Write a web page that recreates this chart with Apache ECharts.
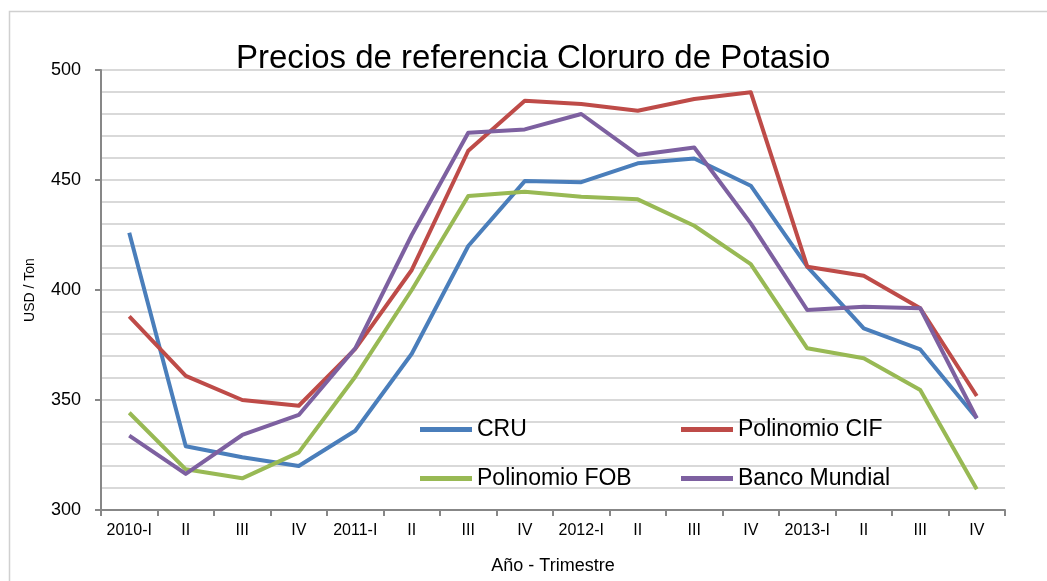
<!DOCTYPE html>
<html>
<head>
<meta charset="utf-8">
<script src="https://cdn.jsdelivr.net/npm/echarts@6/dist/echarts.min.js"></script>
<style>
  html, body { margin: 0; padding: 0; background: #fff; }
  #chart { width: 1047px; height: 581px; }
</style>
</head>
<body>
<div id="chart"></div>
<script>
// trimestres
var quarters = ['2010-I', 'II', 'III', 'IV', '2011-I', 'II', 'III', 'IV', '2012-I', 'II', 'III', 'IV', '2013-I', 'II', 'III', 'IV'];

// valores (USD / Ton)
var cru = [426, 329, 324, 320, 336, 371, 420, 449.5, 449, 457.6, 459.8, 447.4, 410.6, 382.6, 373, 341.7];
var polinomioCif = [388, 361, 350, 347.4, 373.2, 409.1, 463.3, 486, 484.5, 481.5, 486.8, 489.9, 410.6, 406.5, 391.7, 351.8];
var polinomioFob = [344.2, 318.5, 314.4, 326.2, 360.6, 400, 442.7, 444.7, 442.4, 441.2, 429.2, 411.8, 373.5, 369, 354.5, 309.4];
var bancoMundial = [333.8, 316.4, 334.1, 343.2, 373.5, 425, 471.5, 473, 480, 461.4, 464.8, 430.3, 390.9, 392.4, 391.7, 341.7];

var font = 'Liberation Sans';
var chart = echarts.init(document.getElementById('chart'));

function legendAt(name, left, top) {
  return {
    data: [name],
    left: left,
    top: top,
    icon: 'rect',
    itemWidth: 52,
    itemHeight: 5,
    padding: 0,
    textStyle: { fontFamily: font, fontSize: 23, color: '#000' }
  };
}

function line(name, data, color) {
  return {
    name: name,
    type: 'line',
    data: data,
    showSymbol: false,
    symbol: 'none',
    lineStyle: { width: 4, color: color, join: 'round' },
    itemStyle: { color: color }
  };
}

var option = {
  animation: false,
  backgroundColor: '#fff',
  graphic: [{
    type: 'rect',
    shape: { x: 9.5, y: 11.5, width: 1100, height: 620 },
    style: { fill: null, stroke: '#d0d0d0', lineWidth: 1.5 },
    z: -1
  }],
  title: {
    text: 'Precios de referencia Cloruro de Potasio',
    left: 231,
    top: 37,
    textStyle: { fontFamily: font, fontSize: 33, fontWeight: 'normal', color: '#000' }
  },
  legend: [
    legendAt('CRU', 420, 418),
    legendAt('Polinomio CIF', 681, 418),
    legendAt('Polinomio FOB', 420, 467),
    legendAt('Banco Mundial', 681, 467)
  ],
  grid: { left: 101, right: 42, top: 70, bottom: 71 },
  xAxis: {
    type: 'category',
    data: quarters,
    boundaryGap: true,
    name: 'Año - Trimestre',
    nameLocation: 'middle',
    nameGap: 47,
    nameTextStyle: { fontFamily: font, fontSize: 18, color: '#000' },
    axisLine: { lineStyle: { color: '#878787', width: 2 } },
    axisTick: { show: true, length: 6, interval: 0, lineStyle: { color: '#878787', width: 2 } },
    axisLabel: { interval: 0, margin: 13, fontFamily: font, fontSize: 16, color: '#000' },
    splitLine: { show: false }
  },
  yAxis: {
    type: 'value',
    min: 300,
    max: 500,
    interval: 50,
    name: 'USD / Ton',
    nameLocation: 'middle',
    nameGap: 64,
    nameTextStyle: { fontFamily: font, fontSize: 14, color: '#000' },
    axisLine: { show: true, lineStyle: { color: '#878787', width: 2 } },
    axisTick: { show: true, length: 6, lineStyle: { color: '#878787', width: 2 } },
    axisLabel: { margin: 20, fontFamily: font, fontSize: 18, color: '#000' },
    splitLine: { show: true, lineStyle: { color: '#d9d9d9', width: 2 } },
    minorTick: { show: false, splitNumber: 5 },
    minorSplitLine: { show: true, lineStyle: { color: '#d9d9d9', width: 2 } }
  },
  series: [
    line('CRU', cru, '#4a7ebb'),
    line('Polinomio CIF', polinomioCif, '#be4b48'),
    line('Polinomio FOB', polinomioFob, '#98b954'),
    line('Banco Mundial', bancoMundial, '#7d60a0')
  ]
};

chart.setOption(option);
</script>
</body>
</html>
